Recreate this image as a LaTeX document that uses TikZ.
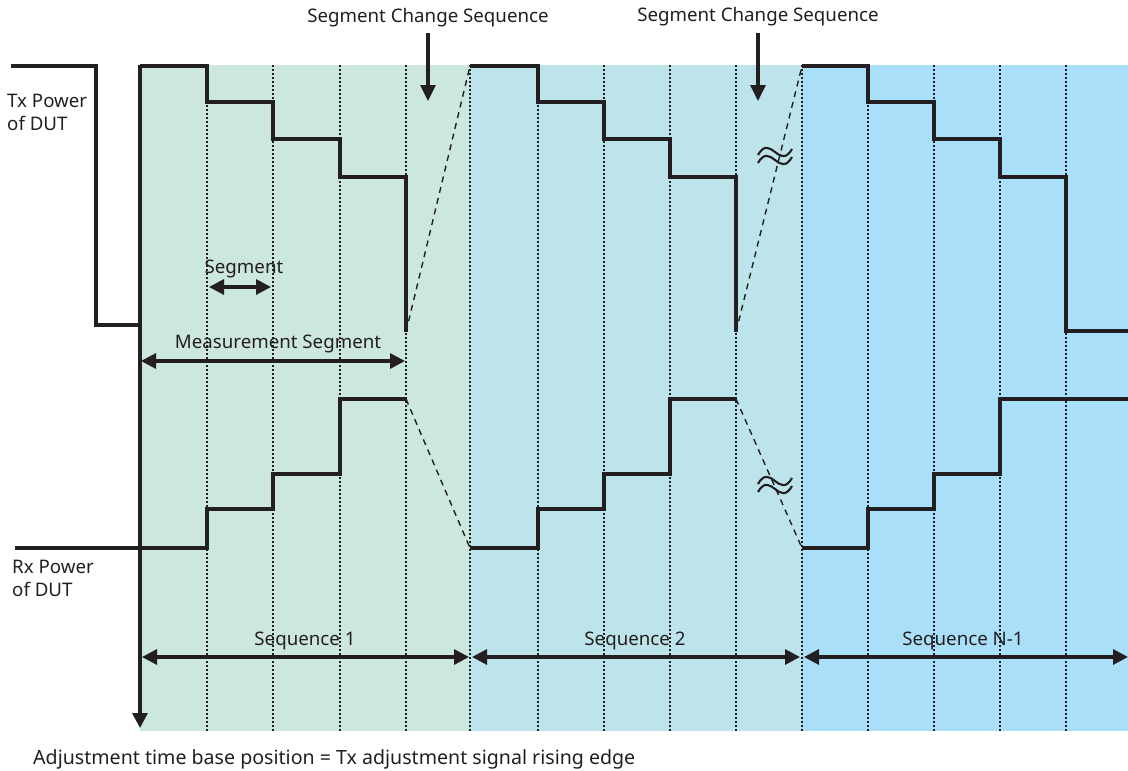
\documentclass[tikz,border=0pt]{standalone}
\usepackage{fontspec}
\setmainfont{Noto Sans}
\usetikzlibrary{arrows.meta}
\definecolor{ink}{HTML}{231F20}
\definecolor{seqA}{HTML}{CCE7DD}
\definecolor{seqB}{HTML}{BDE4EA}
\definecolor{seqC}{HTML}{AADFF9}
\begin{document}
\begin{tikzpicture}[x=1pt,y=-1pt,
 wave/.style={ink,line width=3.2pt,line join=miter},
 gridline/.style={ink,line width=1.8pt,dash pattern=on 2pt off 2pt},
 guide/.style={ink,line width=1.4pt,dash pattern=on 6pt off 5pt},
 dimarrow/.style={ink,line width=3.2pt,{Triangle[length=15pt,width=15pt]}-{Triangle[length=15pt,width=15pt]}},
 downarrow/.style={ink,line width=3.3pt,-{Triangle[length=16pt,width=15pt]}},
 lbl/.style={text=ink,font=\fontsize{18.7}{23}\selectfont,inner sep=0pt},
 approx/.style={ink,line width=2.1pt},
]
\useasboundingbox (0,0) rectangle (1128,771);
% background bands
\fill[seqA] (140,65) rectangle (470,731);
\fill[seqB] (470,65) rectangle (802,731);
\fill[seqC] (802,65) rectangle (1128,731);
\foreach \x in {207,273,340,406,470,538,604,670,736,802,868,934,1000,1066}
  \draw[gridline] (\x,65) -- (\x,731);

% Tx power
\draw[wave] (11,66) -- (96,66) -- (96,325) -- (140,325);
\draw[wave] (140,66) -| (207,102) -| (273,139) -| (340,177) -| (406,332);
\draw[wave] (470,66) -| (538,102) -| (604,139) -| (670,177) -| (736,332);
\draw[wave] (802,66) -| (868,102) -| (934,139) -| (1000,177) -| (1066,331) -- (1128,331);

% Rx power
\draw[wave] (15,548) -- (207,548) |- (273,509) |- (340,474) |- (406,399);
\draw[wave] (470,548) -- (538,548) |- (604,509) |- (670,474) |- (736,399);
\draw[wave] (802,548) -- (868,548) |- (934,509) |- (1000,474) |- (1128,399);

% dashed transitions
\coordinate (t1e) at (406,332); \coordinate (t2s) at (470,66);
\coordinate (r1e) at (406,399); \coordinate (r2s) at (470,548);
\coordinate (t2e) at (736,332); \coordinate (t3s) at (802,66);
\coordinate (r2e) at (736,399); \coordinate (r3s) at (802,548);
\draw[guide] (t1e) -- (t2s);
\draw[guide] (r1e) -- (r2s);
\draw[guide] (t2e) -- (t3s);
\draw[guide] (r2e) -- (r3s);

% approx signs
\foreach \yy in {152,160,481,489}
  \draw[approx] (758,\yy+3) .. controls (764,\yy-8) and (770,\yy-4) .. (775,\yy)
     .. controls (780,\yy+4) and (786,\yy+8) .. (792,\yy-3);

% time axis
\coordinate (axtop) at (140,65); \coordinate (axbot) at (140,728);
\draw[ink,line width=3.3pt,-{Triangle[length=15pt,width=15pt]}] (axtop) -- (axbot);

% labels
\node[lbl] (scs1) at (428,18) {Segment Change Sequence};
\node[lbl] (scs2) at (758,17) {Segment Change Sequence};
\coordinate (scs1tip) at (428,101); \coordinate (scs2tip) at (758,101);
\draw[downarrow] (428,33) -- (scs1tip);
\draw[downarrow] (758,33) -- (scs2tip);

\node[lbl,anchor=west,align=left] (tx) at (7,112) {Tx Power\\of DUT};
\node[lbl,anchor=west,align=left] (rx) at (12,578) {Rx Power\\of DUT};

\node[lbl] (seg) at (244,269) {Segment};
\coordinate (segL) at (209,287); \coordinate (segR) at (271,287);
\draw[dimarrow] (segL) -- (segR);

\node[lbl] (mseg) at (278,344) {Measurement Segment};
\coordinate (msL) at (141,361); \coordinate (msR) at (405,361);
\draw[dimarrow] (msL) -- (msR);

\node[lbl] (sq1) at (305,641) {Sequence 1};
\node[lbl] (sq2) at (635,641) {Sequence 2};
\node[lbl] (sq3) at (963,641) {Sequence N-1};
\coordinate (s1L) at (142,657); \coordinate (s1R) at (469,657);
\coordinate (s2L) at (472,657); \coordinate (s2R) at (800,657);
\coordinate (s3L) at (804,657); \coordinate (s3R) at (1128,657);
\draw[dimarrow] (s1L) -- (s1R);
\draw[dimarrow] (s2L) -- (s2R);
\draw[dimarrow] (s3L) -- (s3R);

\node[lbl,anchor=west,font=\fontsize{19.6}{23}\selectfont] (note) at (33,759) {Adjustment time base position = Tx adjustment signal rising edge};
\end{tikzpicture}
\end{document}
